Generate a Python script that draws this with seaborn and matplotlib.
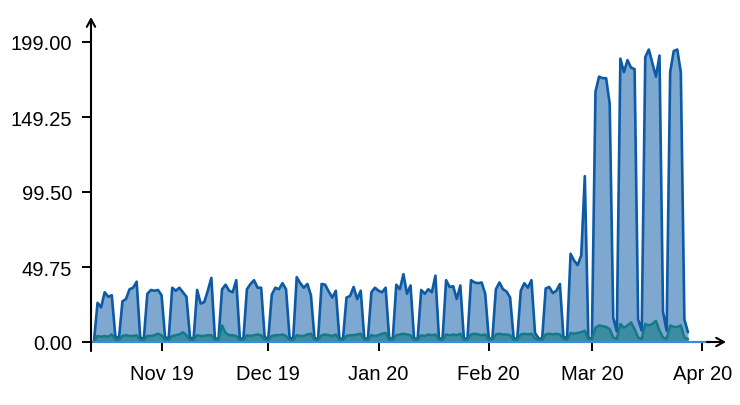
import matplotlib
matplotlib.use("Agg")
import matplotlib.pyplot as plt
import matplotlib.dates as mdates
import numpy as np
import pandas as pd
import seaborn as sns

# ---- data (daily, starting Sunday 2019-10-13) ----
start_date = "2019-10-13"
series_a = [
    0.5, 26, 23, 33, 30, 31, 4,
    2, 27, 28.5, 35, 36, 40, 3,
    2, 32, 34.5, 34, 34.5, 31, 3,
    2.5, 36, 34, 36, 33, 30, 3,
    2, 34.5, 25.5, 26.5, 34, 42.5, 2.5,
    2, 35, 38, 34, 33, 41, 2.5,
    2, 35, 38.5, 41, 36, 36, 3,
    2.5, 31.5, 36, 35, 39, 35, 3,
    2, 43, 39, 36, 38.5, 31, 2.5,
    2, 38.5, 38, 33.5, 29.5, 34, 2.5,
    2, 29.5, 30.5, 36.5, 28.5, 34, 2.5,
    2, 33, 36, 34, 33, 36, 2.5,
    2, 38, 35, 45, 32, 37.5, 2.5,
    2, 34.5, 32, 35, 33, 44, 2.5,
    2, 41, 36.5, 37, 28.5, 37.5, 2.5,
    2, 41, 39.5, 39, 39.5, 32, 2.5,
    2, 35, 39.5, 35, 33.5, 29.5, 2.5,
    2, 34, 39, 36, 41, 6, 2.5,
    2, 35.5, 36.5, 32.5, 34, 38.5, 3,
    3, 58.5, 54, 51, 57.5, 110, 3,
    2, 166, 176, 175, 175, 158, 16,
    7, 188, 179, 187, 182, 181, 15,
    7.5, 189, 194, 185, 176, 190, 20,
    7.5, 179, 193, 194, 179, 15, 6.5,
]
series_b = [
    0.5, 4, 3.5, 4, 3.5, 5, 1.5,
    1.5, 4, 4.5, 4, 4, 4.5, 1.5,
    1.5, 4, 4, 4.5, 5.5, 4.5, 1.5,
    1.5, 4, 4.5, 5, 6.5, 4.5, 1.5,
    1.5, 4.5, 4, 4, 4.5, 4.5, 1.5,
    1.5, 11, 6, 4.5, 4.5, 4, 1.5,
    1.5, 4.5, 4, 4.5, 5, 4.5, 1.5,
    1.5, 4, 4.5, 4.5, 5, 4, 1.5,
    1.5, 4.5, 4, 4, 5, 5.5, 1.5,
    1.5, 4.5, 5, 4.5, 4, 5, 1.5,
    1.5, 4, 4.5, 4.5, 5, 5.5, 1.5,
    1.5, 4.5, 4, 4.5, 5.5, 6, 1.5,
    1.5, 4.5, 5, 5.5, 5, 4.5, 1.5,
    1.5, 4.5, 4, 5, 4.5, 5, 1.5,
    1.5, 5, 4.5, 5, 4.5, 5.5, 1.5,
    1.5, 5, 5.5, 5, 4.5, 5, 1.5,
    1.5, 5, 5.5, 5, 5, 4.5, 1.5,
    1.5, 5, 5.5, 5, 5.5, 2.5, 1.5,
    1.5, 5, 5.5, 5, 5.5, 5, 2,
    1.5, 6, 5.5, 6, 6.5, 7.5, 2,
    2, 9.5, 11, 10.5, 10, 8.5, 3,
    2, 12, 9.5, 11, 13, 8.5, 3,
    2, 12, 11, 12, 14, 7.5, 3,
    2, 11, 10, 10, 11, 3, 2,
]
y_ticks = [0.0, 49.75, 99.50, 149.25, 199.00]
x_tick_dates = ["2019-11-01", "2019-12-01", "2020-01-01", "2020-02-01", "2020-03-01", "2020-04-01"]

dates = pd.date_range(start_date, periods=len(series_a), freq="D")
df = pd.DataFrame({"date": dates, "a": series_a, "b": series_b})

sns.set_style("white")
plt.rcParams["font.family"] = ["Liberation Sans", "DejaVu Sans"]

fig, ax = plt.subplots(figsize=(7.4, 4.06), dpi=100)
fig.subplots_adjust(left=91 / 740, right=726 / 740, bottom=1 - 343 / 406, top=1 - 18 / 406)

blue_line = "#0d5aa6"
blue_fill = "#7ea8cf"
teal_line = "#137b88"
teal_fill = "#3d8ca6"

ax.fill_between(df["date"], df["a"], 0, color=blue_fill, lw=0, zorder=1)
sns.lineplot(data=df, x="date", y="a", color=blue_line, lw=1.9, ax=ax, zorder=2)
ax.fill_between(df["date"], df["b"], 0, color=teal_fill, lw=0, zorder=3)
sns.lineplot(data=df, x="date", y="b", color=teal_line, lw=1.8, ax=ax, zorder=4)

x0 = pd.Timestamp(start_date) - pd.Timedelta(days=0.84)
x1 = pd.Timestamp(start_date) + pd.Timedelta(days=177.7)
ax.set_xlim(x0, x1)
ax.set_ylim(0, 199 * 325 / 300)

ax.set_yticks(y_ticks)
ax.set_yticklabels([f"{v:.2f}" for v in y_ticks])
ax.set_xticks(pd.to_datetime(x_tick_dates))
ax.xaxis.set_major_formatter(mdates.DateFormatter("%b %y"))
ax.set_xlabel("")
ax.set_ylabel("")

for s in ax.spines.values():
    s.set_visible(False)

ax.tick_params(axis="both", which="major", length=6.5, width=1.4, color="black",
               labelsize=14.5, labelcolor="black", direction="out")
ax.tick_params(axis="y", pad=7, left=True)
ax.tick_params(axis="x", pad=9, bottom=True)

# y axis line with arrow (extends a little below zero)
ax.annotate("", xy=(0, 1.0), xytext=(0, -0.028), xycoords="axes fraction",
            textcoords="axes fraction",
            arrowprops=dict(arrowstyle="->,head_length=0.55,head_width=0.3",
                            lw=1.5, color="black", shrinkA=0, shrinkB=0), zorder=6)
# x axis baseline (blue) and black arrow head
ax.plot([0, 0.975], [0, 0], transform=ax.transAxes, color="#3a8fd4", lw=1.6,
        clip_on=False, zorder=5, solid_capstyle="butt")
ax.annotate("", xy=(1.0, 0), xytext=(0.97, 0), xycoords="axes fraction",
            textcoords="axes fraction",
            arrowprops=dict(arrowstyle="->,head_length=0.55,head_width=0.3",
                            lw=1.5, color="black", shrinkA=0, shrinkB=0), zorder=6)

fig.savefig("out.png", dpi=100)
